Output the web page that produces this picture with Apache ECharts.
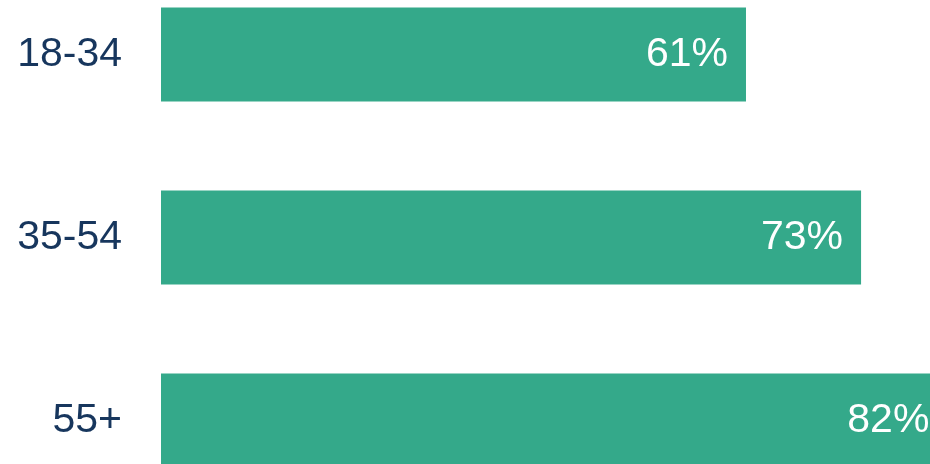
<!DOCTYPE html>
<html>
<head>
<meta charset="utf-8">
<script src="https://cdn.jsdelivr.net/npm/echarts@6/dist/echarts.min.js"></script>
<style>html,body{margin:0;padding:0;background:#fff}#c{width:930px;height:464px}</style>
</head>
<body>
<div id="c"></div>
<script>
var categories = ['18-34', '35-54', '55+'];
var values = [61, 73, 82];

var chart = echarts.init(document.getElementById('c'), null, {renderer: 'canvas'});
chart.setOption({
  animation: false,
  grid: {left: 161, top: -37, width: 959, height: 549, containLabel: false, outerBoundsMode: 'none'},
  xAxis: {type: 'value', min: 0, max: 100, show: false},
  yAxis: {
    type: 'category', data: categories, inverse: true,
    axisLine: {show: false}, axisTick: {show: false}, splitLine: {show: false},
    axisLabel: {margin: 39, color: '#17365D', fontSize: 41, fontFamily: 'Liberation Sans, Arial, sans-serif'}
  },
  series: [{
    type: 'bar', data: values, barWidth: 94,
    itemStyle: {color: '#34A98A'},
    label: {
      show: true, position: 'insideRight', distance: 18,
      formatter: '{c}%', color: '#ffffff', fontSize: 41,
      fontFamily: 'Liberation Sans, Arial, sans-serif'
    }
  }]
});
</script>
</body>
</html>
